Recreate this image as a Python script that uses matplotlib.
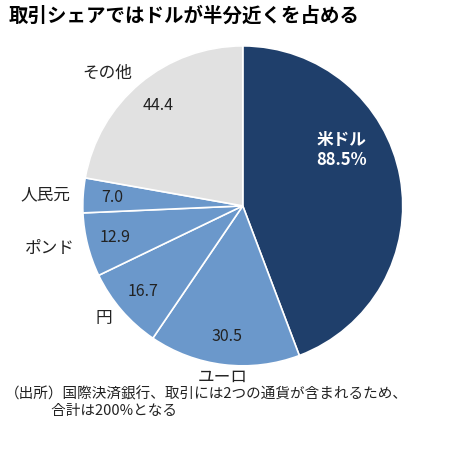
import matplotlib
matplotlib.use("Agg")
import matplotlib.pyplot as plt
import numpy as np

plt.rcParams['font.family'] = ['Noto Sans CJK JP', 'DejaVu Sans']

categories = ["米ドル", "ユーロ", "円", "ポンド", "人民元", "その他"]
values = [88.5, 30.5, 16.7, 12.9, 7.0, 44.4]
colors = ["#1f3f6b", "#6b98cb", "#6b98cb", "#6b98cb", "#6b98cb", "#e1e1e1"]

fig = plt.figure(figsize=(4.5, 4.5), dpi=100)
ax = fig.add_axes([0.184, 0.187, 0.711, 0.711])
wedges, _ = ax.pie(values, colors=colors, startangle=90, counterclock=False,
                   wedgeprops=dict(edgecolor="white", linewidth=1.2))
ax.set_xlim(-1, 1); ax.set_ylim(-1, 1); ax.set_aspect('equal')

total = sum(values)
cum = np.cumsum([0] + values)
for i, (c, v) in enumerate(zip(categories, values)):
    mid = 90 - 360 * (cum[i] + cum[i + 1]) / 2 / total
    t = np.deg2rad(mid)
    if i == 0:
        ax.text(0.62, 0.35, f"{c}\n{v}%", color="white", fontsize=12, fontweight="bold",
                ha="center", va="center", linespacing=1.1)
        continue
    r = 0.82
    ax.text(r * np.cos(t), r * np.sin(t), f"{v}", fontsize=11.5, ha="center", va="center", color="#222222")
    ro = 1.08 if i != 1 else 1.08
    ha = "right" if np.cos(t) < -0.2 else "center"
    ax.text(ro * np.cos(t), ro * np.sin(t), c, fontsize=12, ha=ha, va="center", color="#222222")

fig.text(0.02, 0.965, "取引シェアではドルが半分近くを占める", fontsize=14, fontweight="bold", va="center")
fig.text(0.01, 0.105, "（出所）国際決済銀行、取引には2つの通貨が含まれるため、\n　　　 合計は200%となる",
         fontsize=10.5, va="center", linespacing=1.2, color="#222222")
fig.savefig("out.png", dpi=100)
